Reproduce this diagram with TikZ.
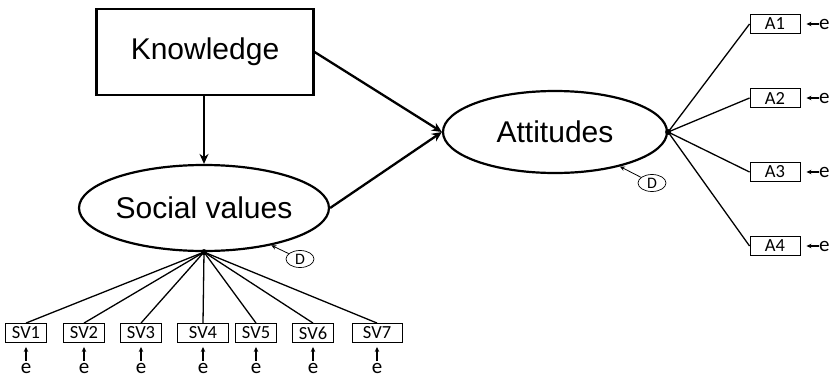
\documentclass[tikz,border=0pt]{standalone}
\usepackage{fontspec}
\setmainfont{Liberation Sans}
\newfontfamily\smallfont{Carlito}
\usetikzlibrary{shapes.geometric,arrows.meta}
\begin{document}
\begin{tikzpicture}[x=1pt,y=-1pt,
  bigbox/.style={draw,line width=2.2pt,minimum width=217pt,minimum height=86pt,inner sep=0pt,font=\fontsize{30}{32}\selectfont},
  latent/.style={draw,ellipse,line width=2.2pt,inner sep=0pt,font=\fontsize{30}{32}\selectfont},
  ind/.style={draw,line width=0.9pt,minimum height=19pt,inner sep=0pt,font=\smallfont\fontsize{18.5}{20}\selectfont},
  err/.style={inner sep=0pt,font=\smallfont\fontsize{21}{22}\selectfont},
  dist/.style={draw,ellipse,line width=0.7pt,minimum width=28pt,minimum height=17pt,inner sep=0pt,font=\smallfont\fontsize{16}{17}\selectfont},
  path/.style={line width=2.3pt,-{Stealth[length=10pt,width=9pt]}},
  load/.style={line width=1.3pt},
  earrow/.style={line width=1.1pt,-{Stealth[length=5pt,width=4.5pt]}},
  darrow/.style={line width=0.8pt,-{Stealth[length=5pt,width=4.5pt]}},
  dot/.style={circle,fill,inner sep=0pt,minimum size=6pt}
]
\useasboundingbox (0,0) rectangle (832,380);

\node[bigbox] (K) at (205,52) {Knowledge};
\node[latent,minimum width=223pt,minimum height=86pt] (S) at (204,208) {Social values};
\node[latent,minimum width=224pt,minimum height=82pt] (A) at (555,132) {Attitudes};

\draw[path] (K.south -| S.north) -- (S.north);
\draw[path] (K.east) -- (A.west);
\draw[path] (S.east) -- (A.west);

\node[dist] (DS) at (300,259) {D};
\node[dist] (DA) at (652,183) {D};
\draw[darrow] (DS) -- (S.-29);
\draw[darrow] (DA) -- (A.-28);

% social values indicators
\node[ind,minimum width=41pt] (sv1) at (26,333) {SV1};
\node[ind,minimum width=41pt] (sv2) at (84,333) {SV2};
\node[ind,minimum width=41pt] (sv3) at (141,333) {SV3};
\node[ind,minimum width=51pt] (sv4) at (203,333) {SV4};
\node[ind,minimum width=41pt] (sv5) at (256,333) {SV5};
\node[ind,minimum width=41pt] (sv6) at (313,333) {SV6};
\node[ind,minimum width=50pt] (sv7) at (377,333) {SV7};
\foreach \i/\x in {1/26,2/84,3/141,4/203,5/256,6/313,7/377}{
  \draw[load] (S.south) -- (sv\i.north);
  \node[err] (es\i) at (\x,368) {e};
  \draw[earrow,shorten <=2pt,shorten >=4pt] (es\i.north) -- (sv\i.south);
}
\node[dot] (dS) at (S.south) {};

% attitudes indicators
\foreach \i/\y in {1/24,2/98,3/172,4/246}{
  \node[ind,minimum width=50pt] (a\i) at (775,\y) {A\i};
  \draw[load] (A.east) -- (a\i.west);
  \node[err,anchor=west] (ea\i) at (819,\y) {e};
  \draw[earrow,shorten >=6pt] (ea\i.west |- a\i.east) -- (a\i.east);
}
\node[dot] (dA) at (A.east) {};
\end{tikzpicture}
\end{document}
